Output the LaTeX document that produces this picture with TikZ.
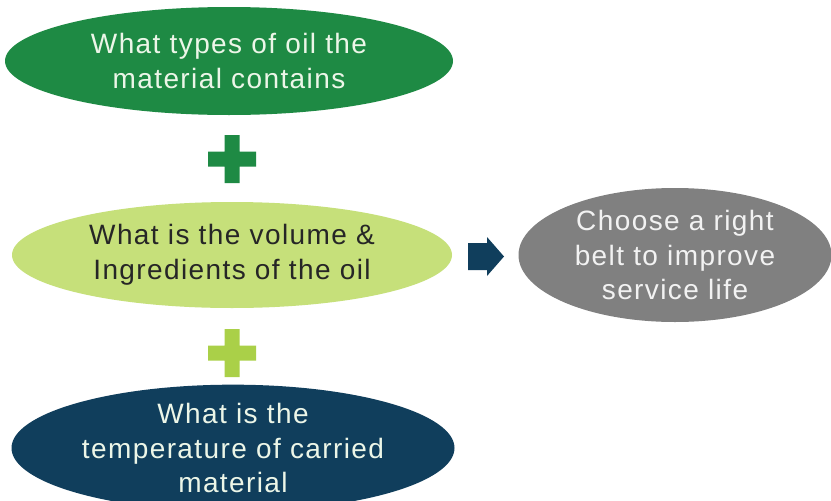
\documentclass[tikz,border=0pt]{standalone}
\usepackage{fontspec}
\setmainfont[LetterSpace=5]{Liberation Sans}
\usetikzlibrary{shapes.geometric}
\definecolor{dgreen}{RGB}{30,138,68}
\definecolor{lgreen}{RGB}{198,224,122}
\definecolor{pgreen}{RGB}{170,208,72}
\definecolor{navy}{RGB}{16,62,92}
\definecolor{greyf}{RGB}{128,128,128}
\definecolor{paletext}{RGB}{236,246,232}
\tikzset{
  oval/.style={ellipse, inner sep=0pt, align=center, font=\fontsize{28}{34.5}\selectfont},
}
\begin{document}
\begin{tikzpicture}[x=1pt,y=-1pt]
\useasboundingbox (0,0) rectangle (831,501);
\fill[white] (0,0) rectangle (831,501);
\node[oval, fill=dgreen, text=paletext, minimum width=448pt, minimum height=108pt] (q1) at (229,61) {What types of oil the\\material contains};
\node[oval, fill=lgreen, text=black!85, minimum width=440pt, minimum height=106pt] (q2) at (232,255) {What is the volume \&\\Ingredients of the oil};
\node[oval, fill=navy, text=paletext, minimum width=443pt, minimum height=108pt] (q3) at (233,448) {What is the\\temperature of carried\\material};
\node[oval, fill=greyf, text=white!95!black, minimum width=313pt, minimum height=134pt] (res) at (675,255) {Choose a right\\belt to improve\\service life};
% plus signs
\foreach \cy/\col in {159/dgreen, 353/pgreen}{
  \fill[\col] (224.5,\cy-24) -- (239.5,\cy-24) -- (239.5,\cy-7.5) -- (256,\cy-7.5) -- (256,\cy+7.5) -- (239.5,\cy+7.5) -- (239.5,\cy+24) -- (224.5,\cy+24) -- (224.5,\cy+7.5) -- (208,\cy+7.5) -- (208,\cy-7.5) -- (224.5,\cy-7.5) -- cycle;
}
% arrow
\fill[navy] (468,243) -- (487,243) -- (487,237) -- (504,256.5) -- (487,276) -- (487,270) -- (468,270) -- cycle;
\end{tikzpicture}
\end{document}
